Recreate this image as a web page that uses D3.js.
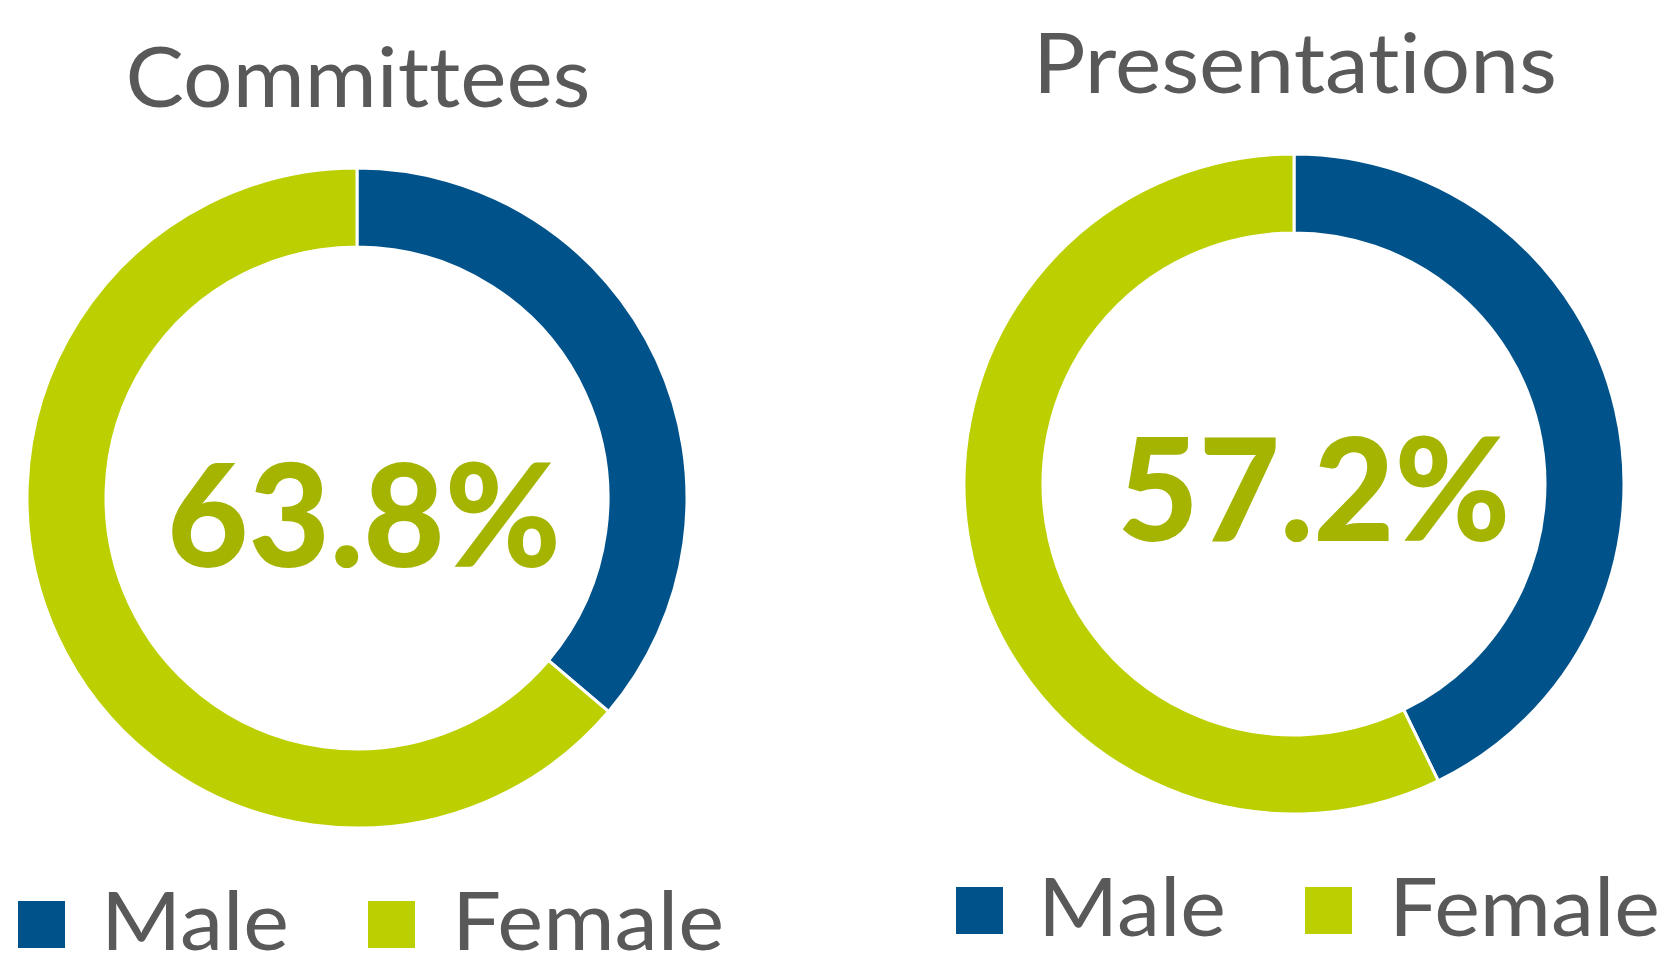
<!DOCTYPE html>
<html>
<head>
<meta charset="utf-8">
<script src="https://cdn.jsdelivr.net/npm/d3@7"></script>
<style>
  body { margin: 0; background: #fff; }
  text { font-family: Lato, "Open Sans", sans-serif; font-variant-ligatures: none; font-feature-settings: "liga" 0, "dlig" 0; }
</style>
</head>
<body>
<div id="chart"></div>
<script>
// data
const titles = ["Committees", "Presentations"];
const categories = ["Male", "Female"];
const maleShare = [36.2, 42.8];
const femaleShare = [63.8, 57.2];
const centerLabels = ["63.8%", "57.2%"];

const width = 1669, height = 970;
const colors = d3.scaleOrdinal().domain(categories).range(["#00528a", "#bccf00"]);

// layout for each donut panel
const panels = [
  { cx: 357, cy: 498, titleX: 358, titleY: 107, titleW: 465, pctX: 364, pctY: 567, pctW: 394,
    legendY: 950, legend: [{ sq: 18, tx: 101, tw: 188 }, { sq: 368, tx: 452, tw: 272 }] },
  { cx: 1294, cy: 484, titleX: 1295, titleY: 93, titleW: 524, pctX: 1314, pctY: 541, pctW: 393,
    legendY: 936, legend: [{ sq: 956, tx: 1038, tw: 188 }, { sq: 1305, tx: 1389, tw: 271 }] }
];

const outerR = 330, innerR = 251;

const svg = d3.select("#chart")
  .append("svg")
  .attr("width", width)
  .attr("height", height);

const pie = d3.pie().sort(null).value(d => d.value);
const arc = d3.arc().innerRadius(innerR).outerRadius(outerR);

titles.forEach((title, i) => {
  const p = panels[i];
  const data = [
    { name: categories[0], value: maleShare[i] },
    { name: categories[1], value: femaleShare[i] }
  ];

  // title
  svg.append("text")
    .attr("x", p.titleX)
    .attr("y", p.titleY)
    .attr("text-anchor", "middle")
    .attr("font-size", 83)
    .attr("fill", "#595959")
    .attr("textLength", p.titleW)
    .attr("lengthAdjust", "spacingAndGlyphs")
    .text(title);

  // donut
  const g = svg.append("g")
    .attr("transform", `translate(${p.cx},${p.cy})`);

  g.selectAll("path")
    .data(pie(data))
    .enter()
    .append("path")
    .attr("d", arc)
    .attr("fill", d => colors(d.data.name))
    .attr("stroke", "#fff")
    .attr("stroke-width", 3);

  // center value
  svg.append("text")
    .attr("x", p.pctX)
    .attr("y", p.pctY)
    .attr("text-anchor", "middle")
    .attr("font-size", 143)
    .attr("font-weight", 900)
    .attr("fill", "#a4b400")
    .attr("textLength", p.pctW)
    .attr("lengthAdjust", "spacingAndGlyphs")
    .text(centerLabels[i]);

  // legend
  p.legend.forEach((l, j) => {
    svg.append("rect")
      .attr("x", l.sq)
      .attr("y", p.legendY - 49)
      .attr("width", 47)
      .attr("height", 47)
      .attr("fill", colors(categories[j]));

    svg.append("text")
      .attr("x", l.tx)
      .attr("y", p.legendY)
      .attr("font-size", 82)
      .attr("fill", "#595959")
      .attr("textLength", l.tw)
      .attr("lengthAdjust", "spacingAndGlyphs")
      .text(categories[j]);
  });
});
</script>
</body>
</html>
